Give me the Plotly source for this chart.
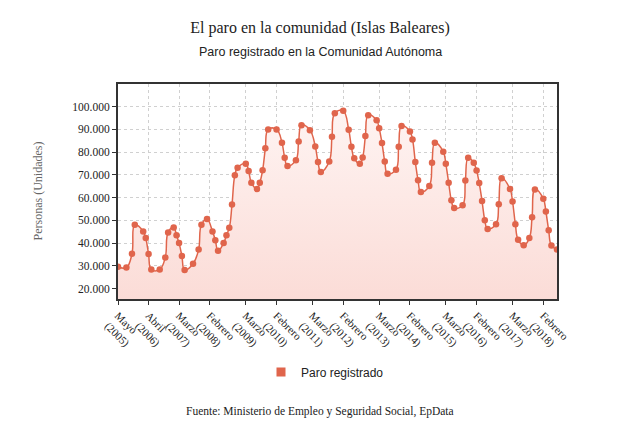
import pandas as pd
import plotly.graph_objects as go

# Registered unemployment, Islas Baleares
fechas = [
    "2005-05", "2005-08", "2005-10", "2005-11", "2006-02", "2006-03", "2006-04", "2006-05",
    "2006-08", "2006-10", "2006-11", "2007-01", "2007-02", "2007-03", "2007-04", "2007-05",
    "2007-08", "2007-10", "2007-11", "2008-01", "2008-03", "2008-04", "2008-05", "2008-07",
    "2008-08", "2008-09", "2008-10", "2008-11", "2008-12", "2009-03", "2009-04", "2009-05",
    "2009-07", "2009-08", "2009-09", "2009-10", "2009-11", "2010-02", "2010-04", "2010-05",
    "2010-06", "2010-09", "2010-10", "2010-11", "2011-02", "2011-04", "2011-05", "2011-06",
    "2011-09", "2011-10", "2011-11", "2012-02", "2012-04", "2012-05", "2012-06", "2012-08",
    "2012-09", "2012-10", "2012-11", "2013-02", "2013-03", "2013-04", "2013-05", "2013-06",
    "2013-09", "2013-10", "2013-11", "2014-02", "2014-03", "2014-04", "2014-05", "2014-06",
    "2014-09", "2014-10", "2014-11", "2015-02", "2015-03", "2015-04", "2015-05", "2015-06",
    "2015-09", "2015-10", "2015-11", "2016-01", "2016-02", "2016-03", "2016-04", "2016-05",
    "2016-06", "2016-09", "2016-10", "2016-11", "2017-02", "2017-03", "2017-04", "2017-05",
    "2017-07", "2017-09", "2017-10", "2017-11", "2018-02", "2018-03", "2018-04", "2018-05",
    "2018-07",
]
parados = [
    29560, 29260, 35300, 48100, 45150, 42200, 35150, 28400,
    28400, 33700, 44700, 46900, 43400, 40000, 34300, 28200,
    30900, 37200, 48100, 50600, 45150, 41300, 36600, 40000,
    43500, 46700, 57000, 69900, 73200, 74900, 71700, 66600,
    63800, 66600, 72000, 81700, 90000, 90000, 84200, 77600,
    73900, 76500, 84700, 91900, 89700, 82500, 75700, 71300,
    75900, 86800, 97100, 98200, 89900, 82400, 77300, 74900,
    77700, 87100, 96300, 94000, 90500, 84000, 75900, 70500,
    72300, 82400, 91500, 89100, 85600, 75700, 67700, 62500,
    65100, 75400, 84200, 80200, 74900, 66600, 58800, 55400,
    56700, 67500, 77500, 75300, 71900, 66400, 58500, 50100,
    46200, 48300, 57100, 68500, 63800, 58300, 48300, 41500,
    39000, 42200, 51400, 63600, 59500, 53900, 45600, 38900,
    37200,
]

# x-axis labels
tick_fechas = ["2005-05", "2006-04", "2007-03", "2008-02", "2009-03", "2010-02", "2011-03",
               "2012-02", "2013-03", "2014-02", "2015-03", "2016-02", "2017-03", "2018-02"]
tick_textos = ["Mayo<br>(2005)", "Abril<br>(2006)", "Marzo<br>(2007)", "Febrero<br>(2008)",
               "Marzo<br>(2009)", "Febrero<br>(2010)", "Marzo<br>(2011)", "Febrero<br>(2012)",
               "Marzo<br>(2013)", "Febrero<br>(2014)", "Marzo<br>(2015)", "Febrero<br>(2016)",
               "Marzo<br>(2017)", "Febrero<br>(2018)"]
y_ticks = [20000, 30000, 40000, 50000, 60000, 70000, 80000, 90000, 100000]

SERIF = "Liberation Serif, Times New Roman, serif"
SANS = "Liberation Sans, Arial, sans-serif"
COLOR = "#E0654C"

# the page body adds an 8px offset, so positions below are shifted back by that
L, R, T, B = 110, 549, 76, 291   # plot box in figure pixels
PH = B - T
PW = R - L

x = pd.to_datetime(fechas)

fig = go.Figure()
fig.add_trace(go.Scatter(
    x=x, y=parados,
    mode="lines+markers",
    line=dict(color=COLOR, width=1.5, shape="spline", smoothing=1.2),
    marker=dict(color=COLOR, size=6.5),
    fill="tozeroy",
    fillgradient=dict(type="vertical", start=15400, stop=110000,
                      colorscale=[[0, "#FBDCD7"], [1, "#FFF7F6"]]),
    showlegend=False,
    hoverinfo="x+y",
))
# legend entry drawn as a plain square, like the original
fig.add_trace(go.Scatter(
    x=[None], y=[None], mode="markers", name="Paro registrado",
    marker=dict(color=COLOR, size=9, symbol="square"),
))

fig.update_layout(
    width=640, height=431,
    margin=dict(l=L, r=640 - R, t=T, b=431 - B),
    paper_bgcolor="white", plot_bgcolor="white",
    separators=",.",
    title=dict(text="El paro en la comunidad (Islas Baleares)", x=312 / 640, xanchor="center",
               y=1 - 19 / 431, yanchor="middle", font=dict(family=SERIF, size=16, color="#222")),
    legend=dict(orientation="h", x=(253 - L) / PW, xanchor="left", y=(B - 364) / PH,
                yanchor="middle", font=dict(family=SANS, size=12, color="#222")),
    annotations=[
        dict(text="Paro registrado en la Comunidad Autónoma", xref="paper", yref="paper",
             x=(312 - L) / PW, y=(B - 44) / PH, xanchor="center", yanchor="middle",
             showarrow=False, font=dict(family=SANS, size=12.5, color="#222")),
        dict(text="Personas (Unidades)", xref="paper", yref="paper", textangle=-90,
             x=(29 - L) / PW, y=0.5, xanchor="center", yanchor="middle", showarrow=False,
             font=dict(family=SERIF, size=12, color="#666")),
        dict(text="Fuente: Ministerio de Empleo y Seguridad Social, EpData", xref="paper",
             yref="paper", x=(312 - L) / PW, y=(B - 403) / PH, xanchor="center",
             yanchor="middle", showarrow=False,
             font=dict(family=SERIF, size=11.5, color="#222")),
    ],
)

fig.update_xaxes(
    type="date", range=[x[0], x[-1]],
    tickvals=pd.to_datetime(tick_fechas), ticktext=tick_textos, tickangle=45,
    tickfont=dict(family=SERIF, size=11, color="#222"),
    showgrid=True, gridcolor="#D0D0D0", griddash="dot", gridwidth=1,
    showline=True, mirror=True, linecolor="#333", linewidth=2,
    ticks="outside", ticklen=4, tickcolor="#333",
    zeroline=False,
)
fig.update_yaxes(
    range=[15400, 110000], tickvals=y_ticks, tickformat=",.0f",
    tickfont=dict(family=SERIF, size=11.5, color="#222"),
    showgrid=True, gridcolor="#D0D0D0", griddash="dot", gridwidth=1,
    showline=True, mirror=True, linecolor="#333", linewidth=2,
    ticks="outside", ticklen=4, tickcolor="#333",
    zeroline=False,
)

fig.write_html("out.html")
